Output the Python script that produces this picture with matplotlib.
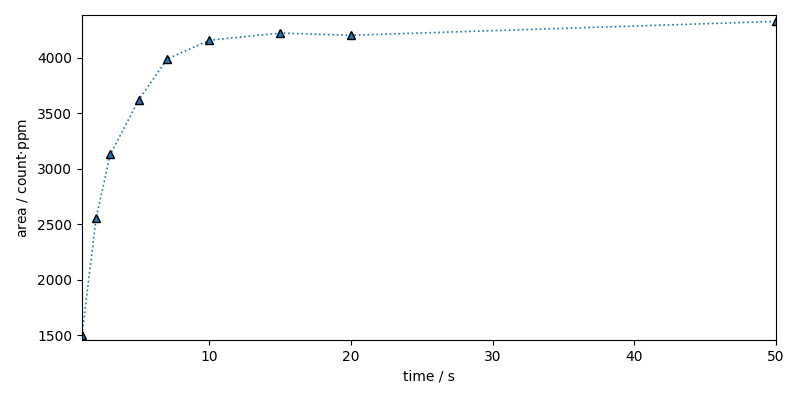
import matplotlib
matplotlib.use("Agg")
import matplotlib.pyplot as plt

time_s = [1, 2, 3, 5, 7, 10, 15, 20, 50]
area = [1500, 2560, 3130, 3620, 3990, 4160, 4225, 4205, 4330]

fig, ax = plt.subplots(figsize=(8, 4), dpi=100)
ax.plot(time_s, area, linestyle=':', color='tab:blue', marker='^',
        markerfacecolor='tab:blue', markeredgecolor='black', markersize=6, linewidth=1.2)
ax.set_xlim(1, 50)
ax.set_ylim(1455, 4388)
ax.set_xlabel("time / s")
ax.set_ylabel(r"area / count$\cdot$ppm")
fig.subplots_adjust(left=0.1025, right=0.97, top=0.9625, bottom=0.15)
fig.savefig("out.png")
